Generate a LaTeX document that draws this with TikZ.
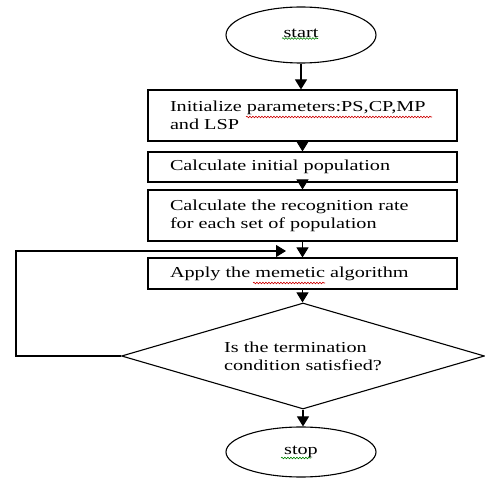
\documentclass[tikz,border=0pt]{standalone}
\usepackage{fontspec}
\setmainfont{Liberation Serif}[FakeStretch=1.33]
\usetikzlibrary{shapes.geometric,arrows.meta,decorations.pathmorphing}

\begin{document}
\begin{tikzpicture}[x=1pt,y=-1pt,
  line width=1.1pt,
  every node/.style={font=\fontsize{15.2}{18}\selectfont},
  terminal/.style={draw, ellipse, minimum width=150, minimum height=54, inner sep=0pt},
  stepbox/.style={draw, rectangle, minimum width=309, text width=265,
    align=left, inner xsep=22pt, inner ysep=0pt},
  decision/.style={draw, diamond, shape aspect=3.42, minimum width=363,
    minimum height=106, inner sep=0pt, align=left},
  flow/.style={-{Triangle[width=12pt,length=10pt]}},
  spellred/.style={draw=red!80!black, line width=0.6pt,
    decorate, decoration={snake, amplitude=0.8pt, segment length=3pt}},
  spellgreen/.style={draw=green!50!black, line width=0.6pt,
    decorate, decoration={snake, amplitude=0.8pt, segment length=3pt}}]

  % page frame
  \useasboundingbox (0,0) rectangle (485,478);

  % flowchart nodes
  \node[terminal, minimum height=56] (start) at (301,35) {\raisebox{4pt}{start}};
  \node[stepbox, minimum height=51] (init) at (302.5,115.5)
    {Initialize parameters:PS,CP,MP\\and LSP};
  \node[stepbox, minimum height=30] (pop) at (302.5,167)
    {Calculate initial population};
  \node[stepbox, minimum height=51] (rate) at (302.5,215.5)
    {Calculate the recognition rate\\for each set of population};
  \node[stepbox, minimum height=31] (meme) at (302.5,273.5)
    {Apply the memetic algorithm};
  \node[decision] (cond) at (303,356)
    {Is the termination\\condition satisfied?};
  \node[terminal, minimum height=50] (stop) at (301,452) {stop};

  % main flow
  \draw[flow] (start.south) -- (start.south |- init.north);
  \draw[flow] (init) -- (pop);
  \draw[flow] (pop) -- (rate);
  \draw[flow] (rate) -- (meme);
  \draw[flow] (meme) -- (meme.south |- cond.north);
  \draw[flow] (cond.south) -- (cond.south |- stop.north);

  % loop back when the condition is not met
  \coordinate (loopcorner) at (16,356);
  \coordinate (loopend) at (286,251);
  \draw[flow] (cond.west) -- (loopcorner) |- (loopend);

  % spell-check underlines
  \draw[spellred] (246,117) -- (432,117);
  \draw[spellred] (253,283) -- (325,283);
  \draw[spellgreen] (282,38.5) -- (318,38.5);
  \draw[spellgreen] (281,458) -- (311,458);
\end{tikzpicture}
\end{document}
